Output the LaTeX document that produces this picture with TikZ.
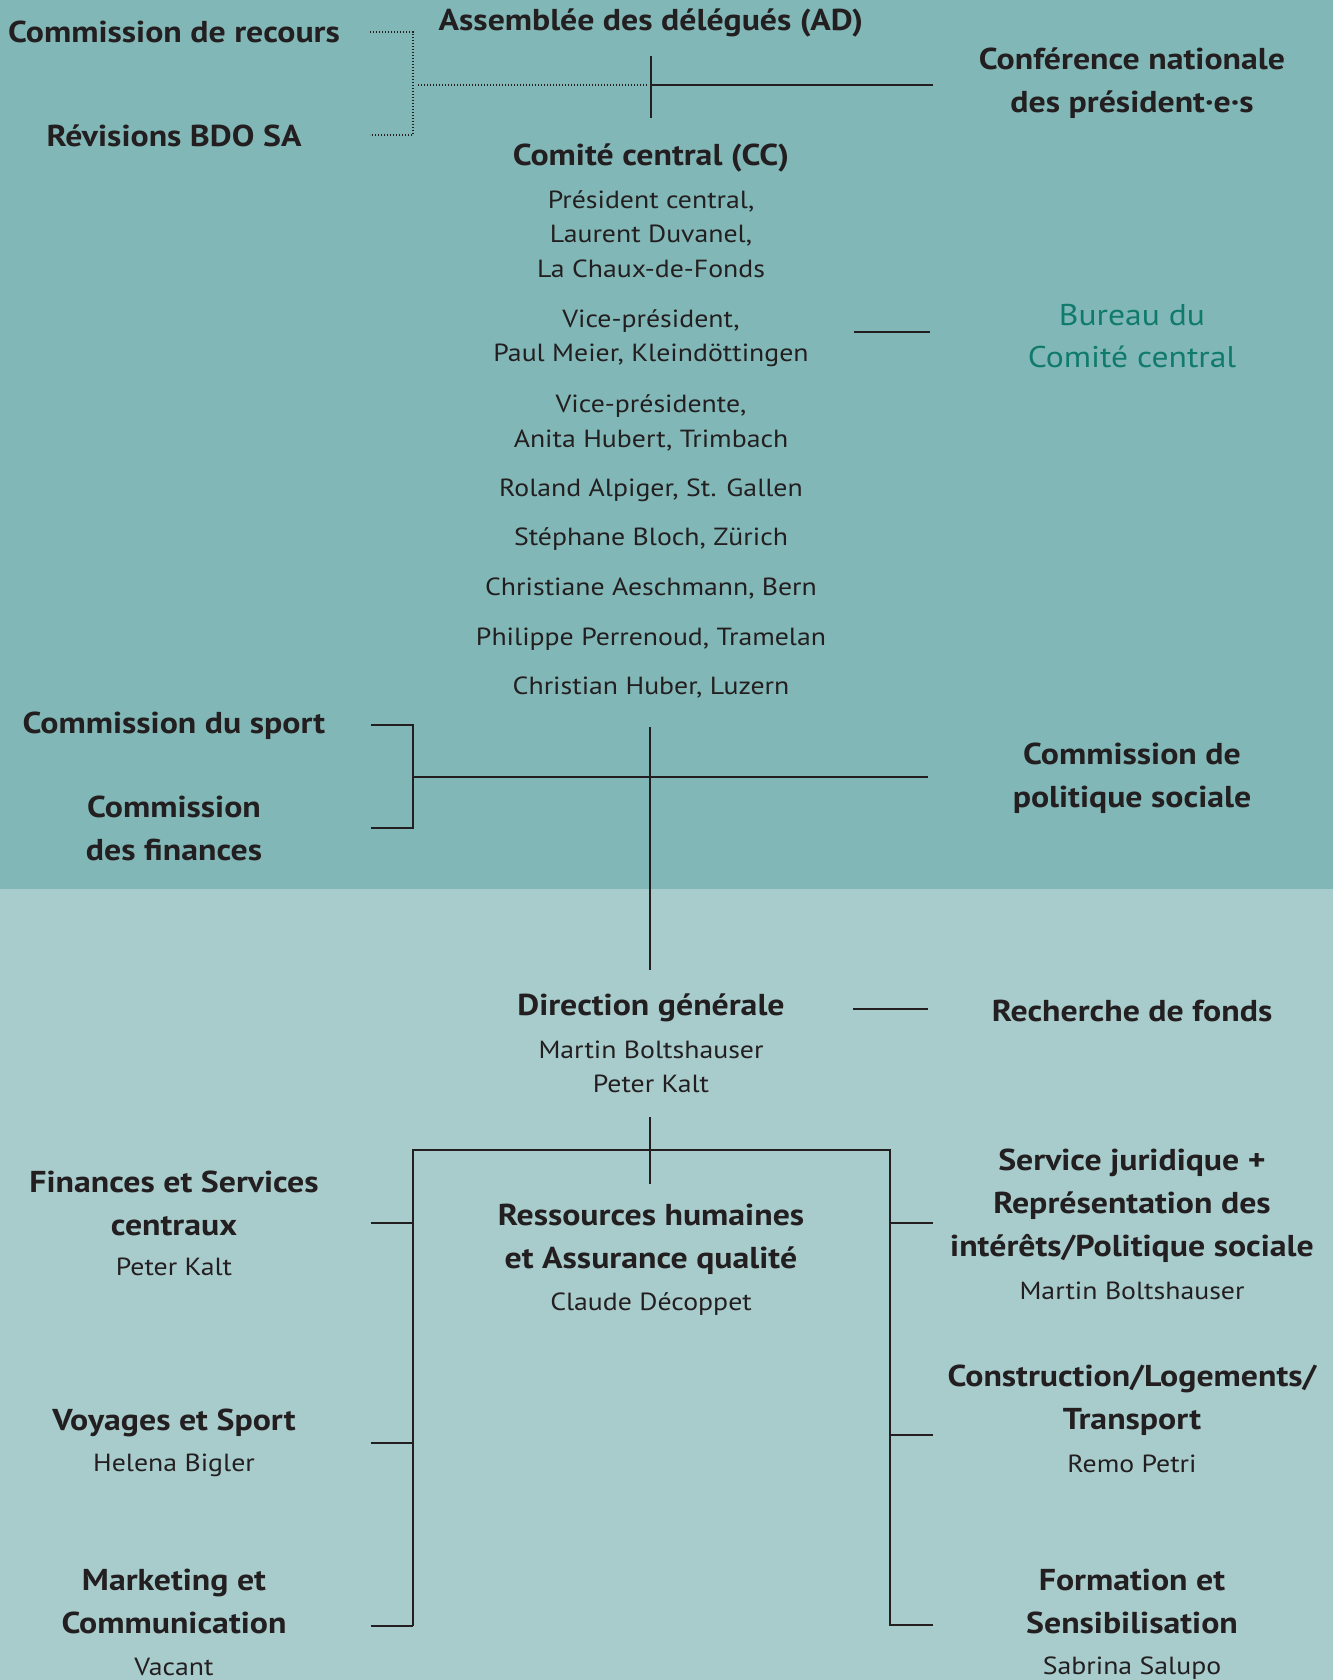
\documentclass[tikz,border=0pt]{standalone}
\usepackage{fontspec}
\setmainfont{PT Sans}[FakeStretch=1.12]
\definecolor{topbg}{RGB}{130,183,183}
\definecolor{botbg}{RGB}{168,203,204}
\definecolor{ink}{RGB}{35,31,32}
\definecolor{bureau}{RGB}{16,123,108}
\begin{document}
\begin{tikzpicture}[x=1pt,y=-1pt,
  hd/.style={font=\bfseries\fontsize{30.2}{43}\selectfont, text=ink, align=center, inner sep=0pt},
  nm/.style={font=\fontsize{24.8}{34.5}\selectfont, text=ink, align=center, inner sep=0pt},
  bu/.style={font=\fontsize{30}{42}\selectfont, text=bureau, align=center, inner sep=0pt},
  ln/.style={draw=ink, line width=1.3pt},
  dl/.style={draw=ink, line width=1.2pt, dash pattern=on 1.2pt off 1.8pt}]
\useasboundingbox (0,0) rectangle (1333,1680);
\fill[topbg] (0,0) rectangle (1333,889);
\fill[botbg] (0,889) rectangle (1333,1680);

% top
\node[hd] (recours) at (174,32) {Commission de recours};
\node[hd] (ad) at (651,23) {Assemblée des délégués (AD)};
\node[hd] (cnp) at (1132,83) {Conférence nationale\\des président·e·s};
\node[hd] (bdo) at (174,136) {Révisions BDO SA};
\node[hd] (cc) at (651,158) {Comité central (CC)};
\node[nm] (m1) at (651,234) {Président central,\\Laurent Duvanel,\\La Chaux-de-Fonds};
\node[nm] (m2) at (651,338) {Vice-président,\\Paul Meier, Kleindöttingen};
\node[nm] (m3) at (651,423) {Vice-présidente,\\Anita Hubert, Trimbach};
\node[nm] (m4) at (651,490) {Roland Alpiger, St. Gallen};
\node[nm] (m5) at (651,539) {Stéphane Bloch, Zürich};
\node[nm] (m6) at (651,589) {Christiane Aeschmann, Bern};
\node[nm] (m7) at (651,639) {Philippe Perrenoud, Tramelan};
\node[nm] (m8) at (651,688) {Christian Huber, Luzern};
\node[bu] (bur) at (1132,336) {Bureau du\\Comité central};

\coordinate (rq1) at (370,32);
\coordinate (rq2) at (413,32);
\coordinate (rq3) at (413,135);
\coordinate (rq4) at (370,135);
\coordinate (rqm) at (418,85);
\coordinate (adj) at (647,85);
\coordinate (adt) at (651,56);
\coordinate (adb) at (651,118);
\coordinate (cnpl) at (933,85);
\draw[dl] (rq1) -- (rq2) -- (rq3) -- (rq4);
\draw[dl] (rqm) -- (adj);
\draw[ln] (adt) -- (adb);
\draw[ln] (651,85) -- (cnpl);
\coordinate (bul) at (854,332);
\coordinate (bur2) at (930,332);
\draw[ln] (bul) -- (bur2);

% middle
\node[hd] (sport) at (174,726) {Commission du sport};
\node[hd] (fin) at (174,828) {Commission\\des finances};
\node[hd] (pol) at (1132,778) {Commission de\\politique sociale};
\coordinate (s1) at (371,725);
\coordinate (s2) at (413,725);
\coordinate (s3) at (413,828);
\coordinate (s4) at (371,828);
\coordinate (hl) at (413,777);
\coordinate (hr) at (928,777);
\coordinate (vt) at (650,727);
\coordinate (vb) at (650,970);
\draw[ln] (s1) -- (s2) -- (s3) -- (s4);
\draw[ln] (hl) -- (hr);
\draw[ln] (vt) -- (vb);

% bottom
\node[hd] (dg) at (651,1008) {Direction générale};
\node[nm] (dgn) at (651,1067) {Martin Boltshauser\\Peter Kalt};
\node[hd] (rf) at (1132,1011) {Recherche de fonds};
\coordinate (rfa) at (853,1009);
\coordinate (rfb) at (928,1009);
\draw[ln] (rfa) -- (rfb);

\node[hd] (fs) at (174,1203) {Finances et Services\\centraux};
\node[nm] (fsn) at (174,1267) {Peter Kalt};
\node[hd] (vs) at (174,1423) {Voyages et Sport};
\node[nm] (vsn) at (174,1465) {Helena Bigler};
\node[hd] (mc) at (174,1601) {Marketing et\\Communication};
\node[nm] (mcn) at (174,1667) {Vacant};
\node[hd] (rh) at (651,1239) {Ressources humaines\\et Assurance qualité};
\node[nm] (rhn) at (651,1304) {Claude Décoppet};
\node[hd] (sj) at (1132,1206) {Service juridique +\\Représentation des\\intérêts/Politique sociale};
\node[nm] (sjn) at (1132,1291) {Martin Boltshauser};
\node[hd] (cl) at (1132,1400) {Construction/Logements/\\Transport};
\node[nm] (cln) at (1132,1464) {Remo Petri};
\node[hd] (fo) at (1132,1601) {Formation et\\Sensibilisation};
\node[nm] (fon) at (1132,1668) {Sabrina Salupo};

\coordinate (dv1) at (650,1117);
\coordinate (dv2) at (650,1184);
\draw[ln] (dv1) -- (dv2);
\coordinate (tl) at (413,1150);
\coordinate (tr) at (890,1150);
\coordinate (bl) at (413,1626);
\coordinate (br) at (890,1626);
\draw[ln] (bl) -- (tl) -- (tr) -- (br);
\foreach \y/\n in {1223/a,1443/b,1626/c} {
  \coordinate (lt\n) at (371,\y);
  \draw[ln] (lt\n) -- (413,\y);
}
\foreach \y/\n in {1223/a,1435/b,1625/c} {
  \coordinate (rt\n) at (933,\y);
  \draw[ln] (890,\y) -- (rt\n);
}
\end{tikzpicture}
\end{document}
